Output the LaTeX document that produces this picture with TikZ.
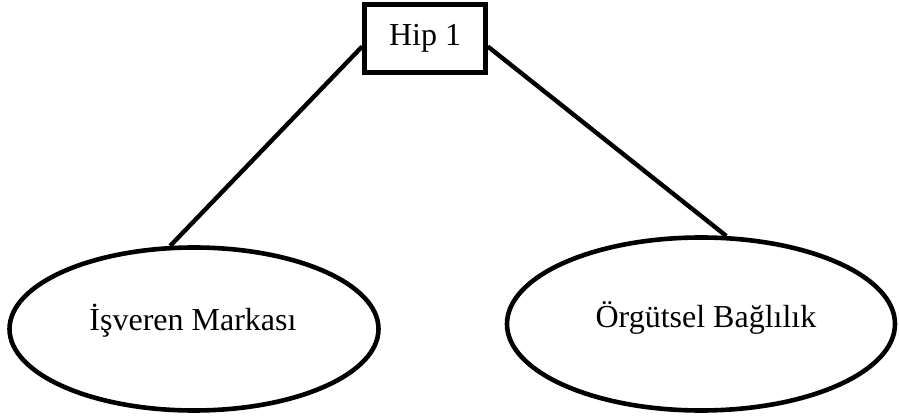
\documentclass[tikz,border=0pt]{standalone}
\usepackage{fontspec}
\setmainfont{Liberation Serif}
\usetikzlibrary{shapes.geometric}
\begin{document}
\begin{tikzpicture}[x=1pt,y=-1pt,
  hipbox/.style={draw,line width=4.6pt,fill=white,inner sep=0pt,minimum width=121pt,minimum height=68pt,font=\fontsize{32}{38}\selectfont},
  varell/.style={draw,ellipse,line width=4.6pt,inner sep=0pt},
  lbl/.style={inner sep=0pt,font=\fontsize{32}{38}\selectfont},
  link/.style={line width=4.4pt}]
\useasboundingbox (0,0) rectangle (899,419);
\node[hipbox] (hip) at (425,38.5) {Hip 1};
\node[varell,minimum width=369pt,minimum height=163pt] (e1) at (194,329) {};
\node[lbl] (t1) at (193,321) {İşveren Markası};
\node[varell,minimum width=388pt,minimum height=173pt] (e2) at (701,324) {};
\node[lbl] (t2) at (706,318) {Örgütsel Bağlılık};
\draw[link] ([yshift=-8pt]hip.west) -- (e1.106);
\draw[link] ([yshift=-8pt]hip.east) -- (e2.74);
\end{tikzpicture}
\end{document}
